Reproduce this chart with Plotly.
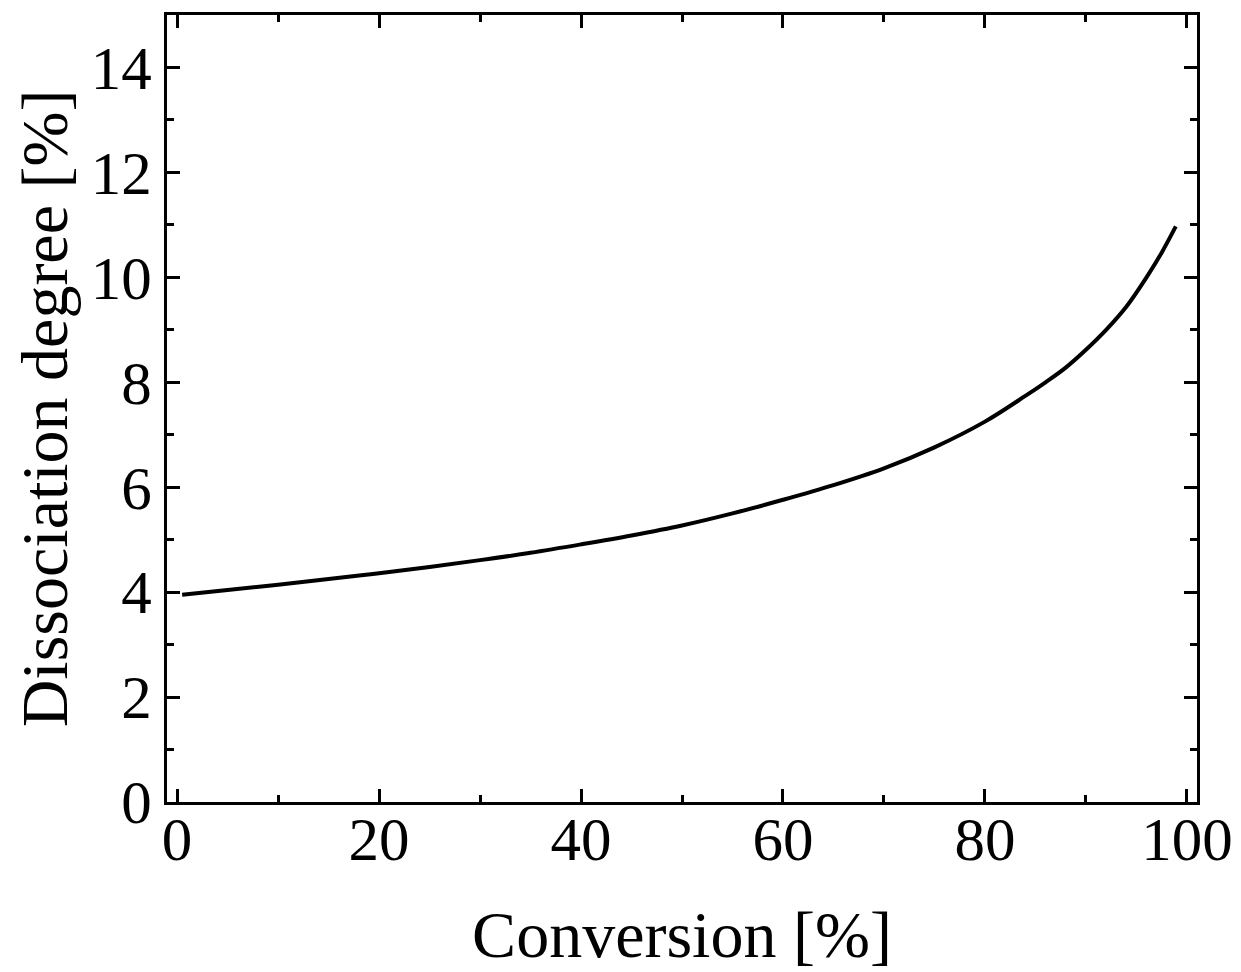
import plotly.graph_objects as go

conversion = [0.5, 5, 10, 15, 20, 25, 30, 35, 40, 45, 50, 55, 60, 65, 70, 75, 80, 84, 86, 88, 90, 92, 94, 96, 97.5, 98.9]
dissociation = [3.95, 4.04, 4.14, 4.25, 4.36, 4.48, 4.61, 4.75, 4.91, 5.08, 5.27, 5.50, 5.76, 6.04, 6.36, 6.76, 7.25, 7.74, 8.00, 8.28, 8.62, 9.00, 9.44, 10.00, 10.47, 10.97]

x_ticks = [0, 20, 40, 60, 80, 100]
y_ticks = [0, 2, 4, 6, 8, 10, 12, 14]

FONT = "Liberation Serif"

fig = go.Figure()
fig.add_trace(go.Scatter(
    x=conversion, y=dissociation, mode="lines",
    line=dict(color="black", width=4, shape="spline", smoothing=1.0),
    showlegend=False,
))

axis_common = dict(
    showline=True, linecolor="black", linewidth=3, mirror="allticks",
    ticks="inside", ticklen=13, tickwidth=3, tickcolor="black",
    showgrid=False, zeroline=False, automargin=False,
    tickfont=dict(family=FONT, size=61, color="black"),
)

fig.update_xaxes(
    range=[-1, 101], tickvals=x_ticks,
    minor=dict(ticks="inside", ticklen=7, tickwidth=3, tickcolor="black", dtick=10, tick0=0, showgrid=False),
    title=dict(text="Conversion [%]", font=dict(family=FONT, size=66, color="black"), standoff=39),
    ticklabelstandoff=-18,
    **axis_common,
)
fig.update_yaxes(
    range=[0, 15], tickvals=y_ticks,
    minor=dict(ticks="inside", ticklen=7, tickwidth=3, tickcolor="black", dtick=1, tick0=0, showgrid=False),
    title=dict(text="Dissociation degree [%]", font=dict(family=FONT, size=66, color="black"), standoff=19),
    ticklabelstandoff=0,
    **axis_common,
)

fig.update_layout(
    width=1225, height=964,
    margin=dict(l=159, r=36, t=7, b=170),
    paper_bgcolor="white", plot_bgcolor="white",
)

fig.write_html("out.html")
